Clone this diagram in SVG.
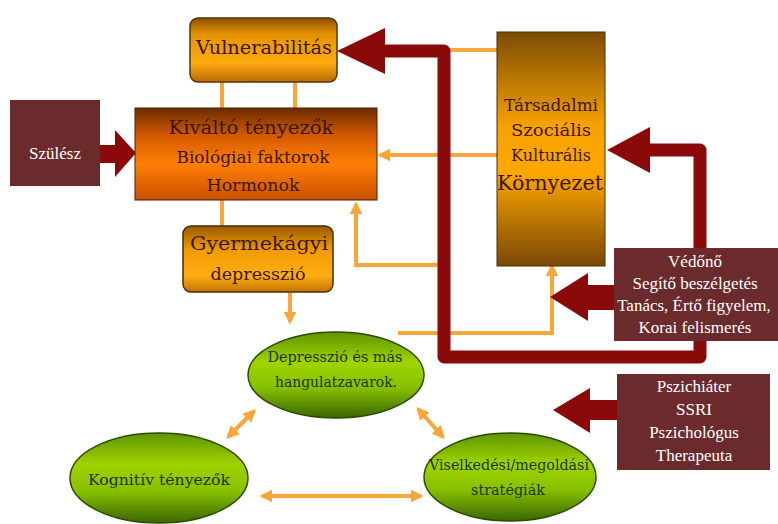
<svg xmlns="http://www.w3.org/2000/svg" width="778" height="524" viewBox="0 0 778 524">
<style>
.ot{font-family:"DejaVu Serif","Liberation Serif",serif;fill:#3a1600;text-anchor:middle}
.gt{font-family:"DejaVu Serif","Liberation Serif",serif;fill:#1d3300;text-anchor:middle}
.wt{font-family:"Liberation Serif","Times New Roman",serif;fill:#ffffff;text-anchor:middle;font-size:17px}
.wb{fill:#6b2a2c}
.oc{fill:none;stroke:#f8a53a;stroke-width:4}
.red{fill:#8a0a0a}
</style>
<defs>
<linearGradient id="gVul" x1="0" y1="0" x2="0" y2="1">
<stop offset="0" stop-color="#8a5000"/><stop offset="0.25" stop-color="#e39200"/><stop offset="0.7" stop-color="#ffab12"/><stop offset="1" stop-color="#b86a00"/>
</linearGradient>
<linearGradient id="gKiv" x1="0" y1="0" x2="0" y2="1">
<stop offset="0" stop-color="#6a2c00"/><stop offset="0.3" stop-color="#d45a00"/><stop offset="0.6" stop-color="#ff7f05"/><stop offset="1" stop-color="#c95000"/>
</linearGradient>
<linearGradient id="gGye" x1="0" y1="0" x2="0" y2="1">
<stop offset="0" stop-color="#9a5a00"/><stop offset="0.35" stop-color="#f09a00"/><stop offset="0.75" stop-color="#ffae14"/><stop offset="1" stop-color="#c07400"/>
</linearGradient>
<linearGradient id="gTar" x1="0" y1="0" x2="0" y2="1">
<stop offset="0" stop-color="#7c4c05"/><stop offset="0.4" stop-color="#f7a100"/><stop offset="0.6" stop-color="#ffa800"/><stop offset="1" stop-color="#7a4705"/>
</linearGradient>
<linearGradient id="gEl" x1="0" y1="0" x2="0" y2="1">
<stop offset="0" stop-color="#5f9500"/><stop offset="0.35" stop-color="#9fd400"/><stop offset="0.65" stop-color="#86c000"/><stop offset="1" stop-color="#3b6600"/>
</linearGradient>
<marker id="oa" viewBox="0 0 10 10" refX="8" refY="5" markerWidth="3.2" markerHeight="3.2" orient="auto-start-reverse">
<path d="M0,0 L10,5 L0,10 z" fill="#f8a53a"/>
</marker>
</defs>
<rect width="778" height="524" fill="#ffffff"/>

<g id="connectors">
<line class="oc" x1="222" y1="82" x2="222" y2="108"/>
<line class="oc" x1="295" y1="82" x2="295" y2="108"/>
<line class="oc" x1="222" y1="200" x2="222" y2="226"/>
<line class="oc" x1="290" y1="293" x2="290" y2="322" marker-end="url(#oa)"/>
<line class="oc" x1="497" y1="155" x2="380" y2="155" marker-end="url(#oa)"/>
<line class="oc" x1="497" y1="50" x2="446" y2="50"/>
<path class="oc" d="M442 265 H356 V204" marker-end="url(#oa)"/>
<path class="oc" d="M398 333 H552 V266" marker-end="url(#oa)"/>
<line class="oc" x1="254" y1="411" x2="228" y2="437" marker-start="url(#oa)" marker-end="url(#oa)"/>
<line class="oc" x1="418" y1="409" x2="443" y2="437" marker-start="url(#oa)" marker-end="url(#oa)"/>
<line class="oc" x1="262" y1="496" x2="421" y2="496" marker-start="url(#oa)" marker-end="url(#oa)"/>
<path d="M383 51 H444 V357 H700 V150 H645" fill="none" stroke="#8a0a0a" stroke-width="13" stroke-linejoin="round"/>
<polygon class="red" points="337,51 385,28 385,74"/>
<polygon class="red" points="607,150 650,127 650,173"/>
<polygon class="red" points="100,145 115,145 115,130 136,153 115,177 115,163 100,163"/>
<polygon class="red" points="614,285 588,285 588,273 550,297 588,321 588,310 614,310"/>
<polygon class="red" points="617,400 590,400 590,388 553,410 590,433 590,420 617,420"/>
</g>

<g id="vulnerabilitas">
<rect x="190" y="18" width="147" height="64" rx="8" fill="url(#gVul)" stroke="#5a3300" stroke-width="1.5"/>
<text class="ot" x="264" y="54" font-size="18" textLength="136" lengthAdjust="spacingAndGlyphs">Vulnerabilitás</text>
</g>

<g id="kivalto">
<rect x="135" y="108" width="242" height="92" fill="url(#gKiv)" stroke="#4a2000" stroke-width="1"/>
<text class="ot" x="251" y="134" font-size="18" textLength="165" lengthAdjust="spacingAndGlyphs">Kiváltó tényezők</text>
<text class="ot" x="253" y="163" font-size="17" textLength="153" lengthAdjust="spacingAndGlyphs">Biológiai faktorok</text>
<text class="ot" x="253" y="191" font-size="17" textLength="93" lengthAdjust="spacingAndGlyphs">Hormonok</text>
</g>

<g id="gyermekagyi">
<rect x="183" y="226" width="150" height="66" rx="8" fill="url(#gGye)" stroke="#4a2a00" stroke-width="1.5"/>
<text class="ot" x="259" y="250" font-size="19" textLength="138" lengthAdjust="spacingAndGlyphs">Gyermekágyi</text>
<text class="ot" x="258" y="280" font-size="17" textLength="95" lengthAdjust="spacingAndGlyphs">depresszió</text>
</g>

<g id="tarsadalmi">
<rect x="497" y="32" width="108" height="234" fill="url(#gTar)" stroke="#4a3000" stroke-width="1"/>
<text class="ot" x="551" y="111" font-size="16" textLength="94" lengthAdjust="spacingAndGlyphs">Társadalmi</text>
<text class="ot" x="551" y="136" font-size="16" textLength="80" lengthAdjust="spacingAndGlyphs">Szociális</text>
<text class="ot" x="551" y="161" font-size="16" textLength="80" lengthAdjust="spacingAndGlyphs">Kulturális</text>
<text class="ot" x="550" y="190" font-size="20" textLength="106" lengthAdjust="spacingAndGlyphs">Környezet</text>
</g>

<g id="szulesz">
<rect class="wb" x="10" y="100" width="90" height="86"/>
<text class="wt" x="55" y="159">Szülész</text>
</g>

<g id="vedono">
<rect class="wb" x="614" y="248" width="164" height="93"/>
<text class="wt" x="695" y="267">Védőnő</text>
<text class="wt" x="695" y="289">Segítő beszélgetés</text>
<text class="wt" x="694" y="311">Tanács, Értő figyelem,</text>
<text class="wt" x="695" y="333">Korai felismerés</text>
</g>

<g id="pszichiater">
<rect class="wb" x="617" y="374" width="153" height="96"/>
<text class="wt" x="694" y="392">Pszichiáter</text>
<text class="wt" x="694" y="415">SSRI</text>
<text class="wt" x="694" y="438">Pszichológus</text>
<text class="wt" x="694" y="461">Therapeuta</text>
</g>

<g id="depresszio">
<ellipse cx="336" cy="375" rx="88" ry="43" fill="url(#gEl)" stroke="#2c4a00" stroke-width="1.5"/>
<text class="gt" x="335" y="362" font-size="14" textLength="135" lengthAdjust="spacingAndGlyphs">Depresszió és más</text>
<text class="gt" x="336" y="387" font-size="14" textLength="122" lengthAdjust="spacingAndGlyphs">hangulatzavarok.</text>
</g>

<g id="kognitiv">
<ellipse cx="159" cy="478" rx="89" ry="45" fill="url(#gEl)" stroke="#2c4a00" stroke-width="1.5"/>
<text class="gt" x="159" y="485" font-size="15" textLength="142" lengthAdjust="spacingAndGlyphs">Kognitív tényezők</text>
</g>

<g id="viselkedesi">
<ellipse cx="510" cy="477" rx="86" ry="44" fill="url(#gEl)" stroke="#2c4a00" stroke-width="1.5"/>
<text class="gt" x="509" y="470" font-size="14" textLength="160" lengthAdjust="spacingAndGlyphs">Viselkedési/megoldási</text>
<text class="gt" x="508" y="495" font-size="14" textLength="74" lengthAdjust="spacingAndGlyphs">stratégiák</text>
</g>
</svg>
